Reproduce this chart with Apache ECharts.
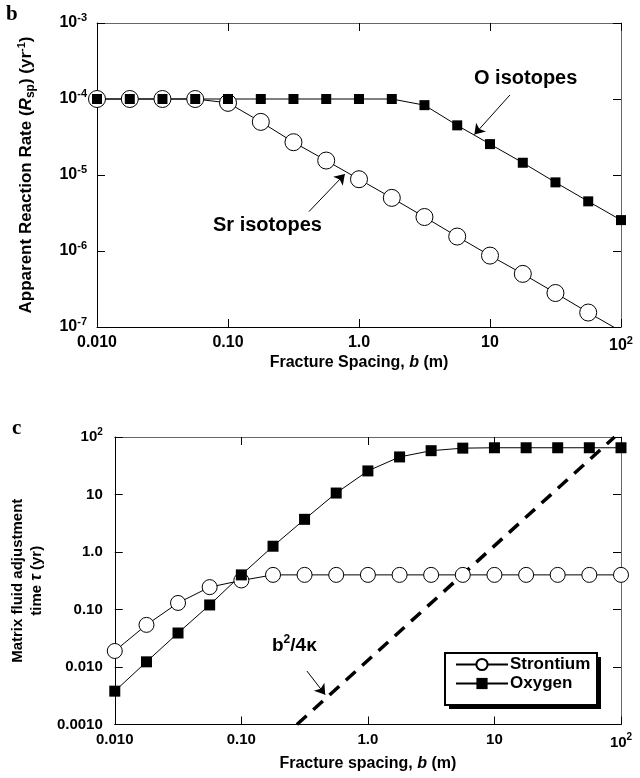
<!DOCTYPE html>
<html>
<head>
<meta charset="utf-8">
<script src="https://cdn.jsdelivr.net/npm/echarts@6/dist/echarts.min.js"></script>
<style>
html,body{margin:0;padding:0;background:#fff;}
#chart{width:640px;height:778px;}
</style>
</head>
<body>
<div id="chart"></div>
<script>
// ---- data ----
var spacing = [0.01, 0.0178, 0.0316, 0.0562, 0.1, 0.178, 0.316, 0.562, 1, 1.78, 3.16, 5.62, 10, 17.8, 31.6, 56.2, 100];
var rateSr = [1e-4, 1e-4, 1e-4, 1e-4, 8.9e-5, 5.0e-5, 2.7e-5, 1.55e-5, 8.8e-6, 5.0e-6, 2.8e-6, 1.55e-6, 8.7e-7, 5.0e-7, 2.8e-7, 1.55e-7, 8.8e-8];
var rateO = [1e-4, 1e-4, 1e-4, 1e-4, 1e-4, 1e-4, 1e-4, 1e-4, 1e-4, 1e-4, 8.3e-5, 4.5e-5, 2.55e-5, 1.45e-5, 8.0e-6, 4.5e-6, 2.55e-6];
var tauSr = [0.019, 0.054, 0.13, 0.245, 0.32, 0.40, 0.40, 0.40, 0.40, 0.40, 0.40, 0.40, 0.40, 0.40, 0.40, 0.40, 0.40];
var tauO = [0.0038, 0.0123, 0.039, 0.12, 0.40, 1.26, 3.7, 10.6, 25.7, 45, 57.8, 64, 65, 65, 65, 65, 65];
var diffusionLine = [[0.275, 0.001], [89, 100]];
var xTickLabels = {'-2': '0.010', '-1': '0.10', '0': '1.0', '1': '10', '2': '{b|10}{s|2}'};
var tauTickLabels = {'-3': '0.0010', '-2': '0.010', '-1': '0.10', '0': '1.0', '1': '10', '2': '{b|10}{s|2}'};
var arrowO = [[14.2, 1.13e-4], [7.6, 3.4e-5]];
var arrowSr = [[0.415, 3.3e-6], [0.78, 1.03e-5]];
var arrowK = [[0.33, 0.0085], [0.46, 0.0033]];

function zip(xs, ys) { return xs.map(function (x, i) { return [x, ys[i]]; }); }
function expOf(v) { return Math.round(Math.log(v) / Math.LN10); }

var FONT = '"Liberation Sans", Arial, sans-serif';
function tickRich(fs) {
  return {
    b: {fontFamily: FONT, fontWeight: 'bold', fontSize: fs, color: '#000'},
    s: {fontFamily: FONT, fontWeight: 'bold', fontSize: Math.round(fs * 0.68), color: '#000', padding: [0, 0, 10, 0]}
  };
}
function labelStyle(fs, margin, fmt) {
  return {fontFamily: FONT, fontWeight: 'bold', fontSize: fs, color: '#000', rich: tickRich(fs), margin: margin, formatter: fmt};
}
function titleRich(fs) {
  return {
    t: {fontFamily: FONT, fontWeight: 'bold', fontSize: fs, color: '#000'},
    i: {fontFamily: FONT, fontWeight: 'bold', fontStyle: 'italic', fontSize: fs, color: '#000'}
  };
}

function mainX(gi, fs, gap, name, tfs) {
  return {
    type: 'log', logBase: 10, gridIndex: gi, min: 0.01, max: 100, position: 'bottom',
    axisLine: {show: true, lineStyle: {color: '#000', width: 1}},
    axisTick: {show: true, inside: true, length: 8, lineStyle: {color: '#000'}},
    minorTick: {show: false}, splitLine: {show: false},
    axisLabel: labelStyle(fs, 8, function (v) { return xTickLabels[expOf(v)] || ''; }),
    name: name, nameLocation: 'middle', nameGap: gap,
    nameTextStyle: {fontFamily: FONT, fontWeight: 'bold', fontSize: tfs, color: '#000', rich: titleRich(tfs)}
  };
}
function mirrorX(gi) {
  return {
    type: 'log', logBase: 10, gridIndex: gi, min: 0.01, max: 100, position: 'top',
    axisLine: {show: true, lineStyle: {color: '#666', width: 1}},
    axisTick: {show: true, inside: true, length: 8, lineStyle: {color: '#000'}},
    axisLabel: {show: false}, splitLine: {show: false}
  };
}
function mirrorY(gi, mn, mx) {
  return {
    type: 'log', logBase: 10, gridIndex: gi, min: mn, max: mx, position: 'right',
    axisLine: {show: true, lineStyle: {color: '#666', width: 1}},
    axisTick: {show: true, inside: true, length: 8, lineStyle: {color: '#000'}},
    axisLabel: {show: false}, splitLine: {show: false}
  };
}
function arrowMark(pair) {
  return {
    silent: true, symbol: ['none', 'arrow'], symbolSize: 10, label: {show: false},
    itemStyle: {color: '#000'},
    lineStyle: {color: '#000', width: 1, type: 'solid'},
    data: [[{coord: pair[0]}, {coord: pair[1]}]]
  };
}

var option = {
  animation: false,
  backgroundColor: '#fff',
  textStyle: {fontFamily: FONT},
  grid: [
    {left: 97, top: 23, width: 524, height: 304},
    {left: 114, top: 437, width: 507, height: 287.5}
  ],
  xAxis: [
    mainX(0, 16, 25, '{t|Fracture Spacing, }{i|b}{t| (m)}', 16),
    mirrorX(0),
    mainX(1, 15, 31, '{t|Fracture spacing, }{i|b}{t| (m)}', 16),
    mirrorX(1)
  ],
  yAxis: [
    {
      type: 'log', logBase: 10, gridIndex: 0, min: 1e-7, max: 1e-3, position: 'left',
      axisLine: {show: true, lineStyle: {color: '#000'}},
      axisTick: {show: true, inside: true, length: 8, lineStyle: {color: '#000'}},
      splitLine: {show: false},
      axisLabel: labelStyle(16, 10, function (v) { return '{b|10}{s|' + expOf(v) + '}'; }),
      name: '{t|Apparent Reaction Rate (}{i|R}{sub|sp}{t|) (yr}{sup|-1}{t|)}',
      nameLocation: 'middle', nameRotate: 90, nameGap: 60,
      nameTextStyle: {rich: {
        t: {fontFamily: FONT, fontWeight: 'bold', fontSize: 17, color: '#000'},
        i: {fontFamily: FONT, fontWeight: 'bold', fontStyle: 'italic', fontSize: 17, color: '#000'},
        sub: {fontFamily: FONT, fontWeight: 'bold', fontSize: 12, color: '#000', padding: [8, 0, 0, 0]},
        sup: {fontFamily: FONT, fontWeight: 'bold', fontSize: 11, color: '#000', padding: [0, 0, 10, 0]}
      }}
    },
    mirrorY(0, 1e-7, 1e-3),
    {
      type: 'log', logBase: 10, gridIndex: 1, min: 0.001, max: 100, position: 'left',
      axisLine: {show: true, lineStyle: {color: '#000'}},
      axisTick: {show: true, inside: true, length: 8, lineStyle: {color: '#000'}},
      splitLine: {show: false},
      axisLabel: labelStyle(15, 12, function (v) { return tauTickLabels[expOf(v)] || ''; }),
      name: '{t|Matrix fluid adjustment}\n{t|time }{i|τ}{t| (yr)}',
      nameLocation: 'middle', nameRotate: 90, nameGap: 64,
      nameTextStyle: {lineHeight: 19, rich: {
        t: {fontFamily: FONT, fontWeight: 'bold', fontSize: 15, color: '#000', lineHeight: 19},
        i: {fontFamily: FONT, fontWeight: 'bold', fontStyle: 'italic', fontSize: 16, color: '#000', lineHeight: 19}
      }}
    },
    mirrorY(1, 0.001, 100)
  ],
  legend: {
    data: [{name: 'Strontium'}, {name: 'Oxygen'}],
    orient: 'vertical', left: 447, top: 656, z: 10,
    itemWidth: 52, itemHeight: 14, itemGap: 2,
    padding: [0, 0, 0, 8],
    backgroundColor: 'transparent', borderWidth: 0,
    textStyle: {fontFamily: FONT, fontWeight: 'bold', fontSize: 17, color: '#000', padding: [0, 0, 0, -3]}
  },
  series: [
    {
      name: 'Sr rate', type: 'line', xAxisIndex: 0, yAxisIndex: 0, data: zip(spacing, rateSr),
      symbol: 'circle', symbolSize: 17, clip: true,
      lineStyle: {color: '#000', width: 1}, itemStyle: {color: '#fff', borderColor: '#000', borderWidth: 1},
      markLine: arrowMark(arrowSr)
    },
    {
      name: 'O rate', type: 'line', xAxisIndex: 0, yAxisIndex: 0, data: zip(spacing, rateO),
      symbol: 'rect', symbolSize: 10, clip: true,
      lineStyle: {color: '#000', width: 1}, itemStyle: {color: '#000'},
      markLine: arrowMark(arrowO)
    },
    {
      name: 'diffusion', type: 'line', xAxisIndex: 2, yAxisIndex: 2, data: diffusionLine,
      symbol: 'none', clip: true, color: '#000',
      lineStyle: {color: '#000', width: 3.5, type: [13, 9]},
      markLine: arrowMark(arrowK)
    },
    {
      name: 'Strontium', type: 'line', xAxisIndex: 2, yAxisIndex: 2, data: zip(spacing, tauSr),
      symbol: 'circle', symbolSize: 15, clip: true,
      lineStyle: {color: '#000', width: 1}, itemStyle: {color: '#fff', borderColor: '#000', borderWidth: 1}
    },
    {
      name: 'Oxygen', type: 'line', xAxisIndex: 2, yAxisIndex: 2, data: zip(spacing, tauO),
      symbol: 'rect', symbolSize: 11, clip: true,
      lineStyle: {color: '#000', width: 1}, itemStyle: {color: '#000'}
    }
  ],
  graphic: [
    {type: 'text', left: 6, top: 4, style: {text: 'b', font: 'bold 21px "Liberation Serif", "Times New Roman", serif', fill: '#000'}},
    {type: 'text', left: 12, top: 418, style: {text: 'c', font: 'bold 21px "Liberation Serif", "Times New Roman", serif', fill: '#000'}},
    {type: 'text', left: 474, top: 68, style: {text: 'O isotopes', font: 'bold 20px "Liberation Sans", Arial, sans-serif', fill: '#000'}},
    {type: 'text', left: 213, top: 215, style: {text: 'Sr isotopes', font: 'bold 20px "Liberation Sans", Arial, sans-serif', fill: '#000'}},
    {type: 'text', left: 272, top: 634, style: {text: '{b|b}{s|2}{b|/4κ}', rich: {
      b: {font: 'bold 19px "Liberation Sans", Arial, sans-serif', fill: '#000'},
      s: {font: 'bold 12px "Liberation Sans", Arial, sans-serif', fill: '#000', padding: [0, 0, 11, 0]}
    }}},
    {type: 'rect', z: 5, shape: {x: 449, y: 657, width: 152, height: 52}, style: {fill: '#000'}},
    {type: 'rect', z: 6, shape: {x: 445, y: 653, width: 152, height: 52}, style: {fill: '#fff', stroke: '#000', lineWidth: 2}}
  ]
};

var chart = echarts.init(document.getElementById('chart'), null, {renderer: 'canvas'});
chart.setOption(option);
</script>
</body>
</html>
